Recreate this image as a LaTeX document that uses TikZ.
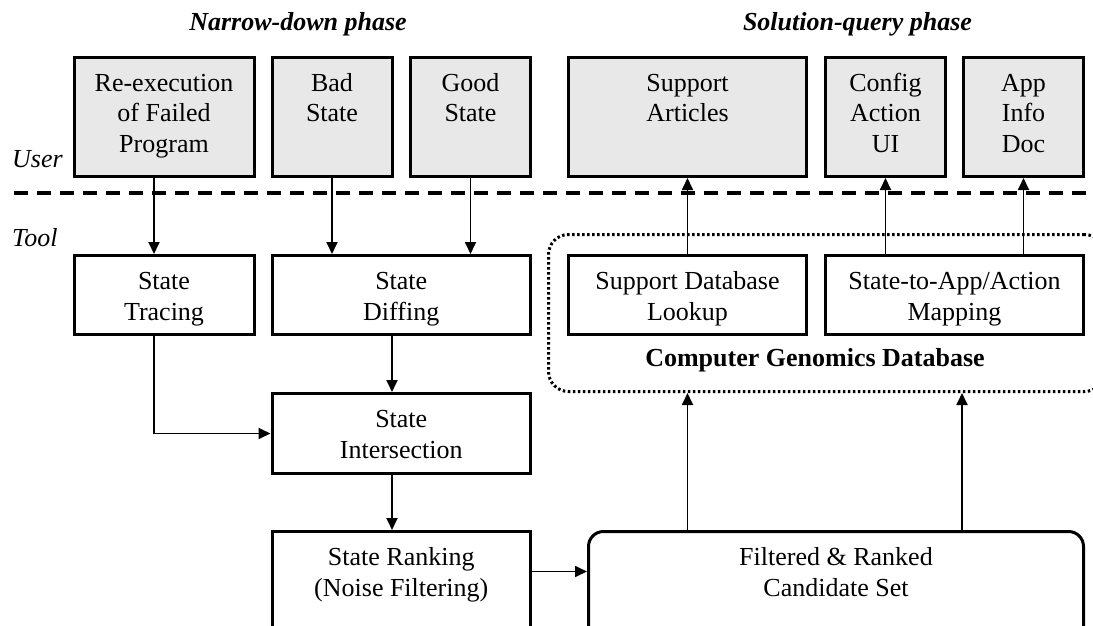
\documentclass[tikz,border=0pt]{standalone}
\usepackage{fontspec}
\setmainfont{Liberation Serif}
\usetikzlibrary{arrows.meta}
\definecolor{boxgray}{RGB}{232,232,232}
\newcommand\boxtxt[3]{\parbox[c][#2][t]{#1}{\centering\vspace*{12.65pt}\strut #3}}
\begin{document}
\begin{tikzpicture}[x=1pt,y=-1pt,
  font=\fontsize{26}{30.5}\selectfont,
  bx/.style={draw, line width=3pt, inner sep=0pt, anchor=north west},
  ubx/.style={bx, fill=boxgray},
  arr/.style={line width=1.8pt, -{Triangle[length=12pt,width=11pt]}},
  sep/.style={line width=3.5pt, dash pattern=on 14pt off 9pt},
  dbline/.style={line width=3pt, dash pattern=on 2.5pt off 2.5pt},
  ttl/.style={font=\fontsize{26}{30.5}\selectfont\bfseries\itshape, anchor=base},
  side/.style={font=\fontsize{26}{30.5}\selectfont\itshape, anchor=base west, inner sep=0pt}
  ]
\useasboundingbox (0,0) rectangle (1093,626);
\clip (0,0) rectangle (1093,626);

% titles and side labels
\node[ttl] (t1) at (298,31) {Narrow-down phase};
\node[ttl] (t2) at (857.5,31) {Solution-query phase};
\node[side] (user) at (12,167) {User};
\node[side] (tool) at (12,246) {Tool};

% separator
\draw[sep] (14,193) -- (1100,193);

% database region
\node[dbline, draw, rounded corners=20pt, inner sep=0pt, anchor=north west,
      minimum width=556pt, minimum height=157pt] (db) at (547,233) {};
\node[font=\fontsize{26}{30.5}\selectfont\bfseries, anchor=base, inner sep=0pt] (cgd) at (815,366) {Computer Genomics Database};

% user boxes
\node[ubx] (reexec) at (72.5,56) {\boxtxt{180pt}{119pt}{Re-execution\\of Failed\\Program}};
\node[ubx] (bad) at (270.5,56) {\boxtxt{120pt}{119pt}{Bad\\State}};
\node[ubx] (good) at (409,56) {\boxtxt{120pt}{119pt}{Good\\State}};
\node[ubx] (supp) at (567,56) {\boxtxt{238pt}{119pt}{Support\\Articles}};
\node[ubx] (cfg) at (824,56) {\boxtxt{120pt}{119pt}{Config\\Action\\UI}};
\node[ubx] (app) at (962,56) {\boxtxt{120pt}{119pt}{App\\Info\\Doc}};

% tool boxes
\node[bx] (trace) at (72.5,254) {\boxtxt{180pt}{79pt}{State\\Tracing}};
\node[bx] (diff) at (270.5,254) {\boxtxt{258.5pt}{79pt}{State\\Diffing}};
\node[bx] (sdb) at (567,254) {\boxtxt{238pt}{79pt}{Support Database\\Lookup}};
\node[bx] (map) at (824,254) {\boxtxt{258pt}{79pt}{State-to-App/Action\\Mapping}};
\node[bx] (inter) at (270.5,392) {\boxtxt{258.5pt}{80pt}{State\\Intersection}};
\node[bx] (rank) at (270.5,530) {\boxtxt{258.5pt}{110pt}{State Ranking\\(Noise Filtering)}};
\node[bx, rounded corners=15pt] (cand) at (587,530) {\boxtxt{495pt}{110pt}{Filtered \& Ranked\\Candidate Set}};

% connectors
\draw[arr] ([xshift=-10pt]reexec.south) -- ([xshift=-10pt]trace.north);
\draw[arr] (bad.south) -- (bad.south |- diff.north);
\draw[arr] (good.south) -- (good.south |- diff.north);
\draw[arr] ([xshift=-9.25pt]diff.south) -- ([xshift=-9.25pt]inter.north);
\draw[arr] ([xshift=-10pt]trace.south) |- (inter.west);
\draw[arr] ([xshift=-9.25pt]inter.south) -- ([xshift=-9.25pt]rank.north);
\coordinate (rk) at ([yshift=-41.5pt]rank.north east);
\draw[arr] (rk) -- (rk -| cand.west);
\draw[arr] (cand.north -| sdb.south) -- (db.south -| sdb.south);
\draw[arr] (cand.north -| app.west) -- (db.south -| app.west);
\draw[arr] (sdb.north) -- (supp.south);
\draw[arr] (map.north -| cfg.south) -- (cfg.south);
\draw[arr] (map.north -| app.south) -- (app.south);
\end{tikzpicture}
\end{document}
